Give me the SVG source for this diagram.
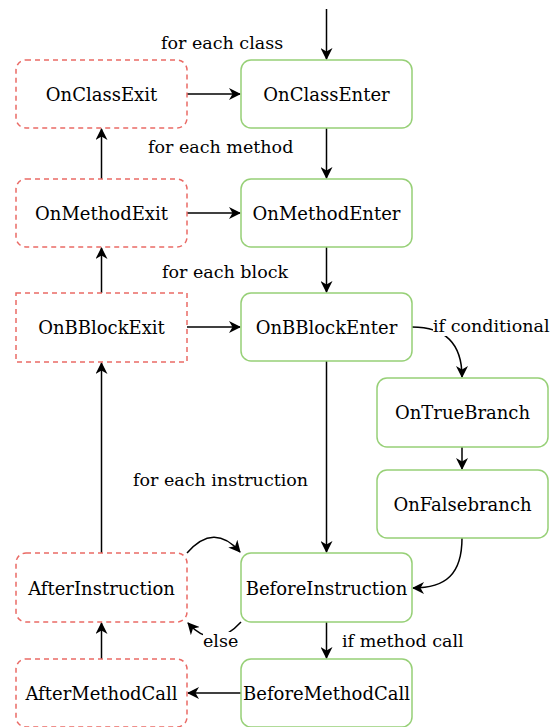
<svg xmlns="http://www.w3.org/2000/svg" width="553" height="727" viewBox="0 0 553 727">
  <style>
    .exit { fill: #ffffff; stroke: #ea6b66; stroke-width: 1.5; stroke-dasharray: 5 4; }
    .enter { fill: #ffffff; stroke: #97d077; stroke-width: 1.5; }
    .node-text { font-family: "DejaVu Serif", "Liberation Serif", serif; font-size: 18px; fill: #000000; text-anchor: middle; }
    .edge { fill: none; stroke: #000000; stroke-width: 1.5; }
    .label { font-family: "DejaVu Serif", "Liberation Serif", serif; font-size: 17.5px; fill: #000000; }
    .label-bg { fill: #ffffff; }
  </style>
  <defs>
    <marker id="arrow" viewBox="0 0 12 12" refX="11" refY="6" markerWidth="12" markerHeight="12" markerUnits="userSpaceOnUse" orient="auto">
      <path d="M0,0 L12,6 L0,12 L3.5,6 z" fill="#000000"/>
    </marker>
  </defs>
  <rect width="553" height="727" fill="#ffffff"/>

  <!-- connectors -->
  <g id="connectors">
    <path class="edge" d="M326.5,9 L326.5,59" marker-end="url(#arrow)"/>
    <path class="edge" d="M326.5,128 L326.5,178" marker-end="url(#arrow)"/>
    <path class="edge" d="M326.5,247 L326.5,292" marker-end="url(#arrow)"/>
    <path class="edge" d="M326.5,361 L326.5,552" marker-end="url(#arrow)"/>
    <path class="edge" d="M326.5,622 L326.5,658" marker-end="url(#arrow)"/>
    <path class="edge" d="M241,693 L188,693" marker-end="url(#arrow)"/>
    <path class="edge" d="M101.5,659 L101.5,623" marker-end="url(#arrow)"/>
    <path class="edge" d="M101.5,553 L101.5,363" marker-end="url(#arrow)"/>
    <path class="edge" d="M101.5,293 L101.5,248" marker-end="url(#arrow)"/>
    <path class="edge" d="M101.5,179 L101.5,129" marker-end="url(#arrow)"/>
    <path class="edge" d="M187,94 L240,94" marker-end="url(#arrow)"/>
    <path class="edge" d="M187,213 L240,213" marker-end="url(#arrow)"/>
    <path class="edge" d="M187,327 L240,327" marker-end="url(#arrow)"/>
    <path class="edge" d="M412,327 C446,327 462,345 462,377" marker-end="url(#arrow)"/>
    <path class="edge" d="M462,447 L462,469" marker-end="url(#arrow)"/>
    <path class="edge" d="M462,538 C462,574 446,588 413,588" marker-end="url(#arrow)"/>
    <path class="edge" d="M187,553 Q214,522 240,552" marker-end="url(#arrow)"/>
    <path class="edge" d="M241,622 Q214,652 188,623" marker-end="url(#arrow)"/>

    <!-- connector labels -->
    <text class="label" x="161" y="49">for each class</text>
    <text class="label" x="148" y="153">for each method</text>
    <text class="label" x="162" y="278">for each block</text>
    <text class="label" x="133" y="486">for each instruction</text>
    <rect class="label-bg" x="433" y="316" width="120" height="20"/>
    <text class="label" x="433" y="332">if conditional</text>
    <text class="label" x="342" y="647">if method call</text>
    <rect class="label-bg" x="203" y="632" width="35" height="18"/>
    <text class="label" x="203" y="647">else</text>
  </g>

  <!-- exit hooks -->
  <g id="OnClassExit">
    <rect class="exit" x="16" y="60" width="171" height="68" rx="10"/>
    <text class="node-text" x="101.5" y="101">OnClassExit</text>
  </g>
  <g id="OnMethodExit">
    <rect class="exit" x="16" y="179" width="171" height="68" rx="10"/>
    <text class="node-text" x="101.5" y="220">OnMethodExit</text>
  </g>
  <g id="OnBBlockExit">
    <rect class="exit" x="16" y="293" width="171" height="69"/>
    <text class="node-text" x="101.5" y="334">OnBBlockExit</text>
  </g>
  <g id="AfterInstruction">
    <rect class="exit" x="16" y="553" width="171" height="69" rx="10"/>
    <text class="node-text" x="101.5" y="595">AfterInstruction</text>
  </g>
  <g id="AfterMethodCall">
    <rect class="exit" x="16" y="659" width="171" height="68" rx="10"/>
    <text class="node-text" x="101.5" y="700">AfterMethodCall</text>
  </g>

  <!-- enter hooks -->
  <g id="OnClassEnter">
    <rect class="enter" x="241" y="60" width="171" height="68" rx="10"/>
    <text class="node-text" x="326.5" y="101">OnClassEnter</text>
  </g>
  <g id="OnMethodEnter">
    <rect class="enter" x="241" y="179" width="171" height="68" rx="10"/>
    <text class="node-text" x="326.5" y="220">OnMethodEnter</text>
  </g>
  <g id="OnBBlockEnter">
    <rect class="enter" x="241" y="293" width="171" height="68" rx="10"/>
    <text class="node-text" x="326.5" y="334">OnBBlockEnter</text>
  </g>
  <g id="OnTrueBranch">
    <rect class="enter" x="377" y="378" width="171" height="69" rx="10"/>
    <text class="node-text" x="462.5" y="419">OnTrueBranch</text>
  </g>
  <g id="OnFalsebranch">
    <rect class="enter" x="377" y="470" width="171" height="68" rx="10"/>
    <text class="node-text" x="462.5" y="511">OnFalsebranch</text>
  </g>
  <g id="BeforeInstruction">
    <rect class="enter" x="241" y="553" width="171" height="69" rx="10"/>
    <text class="node-text" x="326.5" y="595">BeforeInstruction</text>
  </g>
  <g id="BeforeMethodCall">
    <rect class="enter" x="241" y="659" width="171" height="68" rx="10"/>
    <text class="node-text" x="326.5" y="700">BeforeMethodCall</text>
  </g>
</svg>
